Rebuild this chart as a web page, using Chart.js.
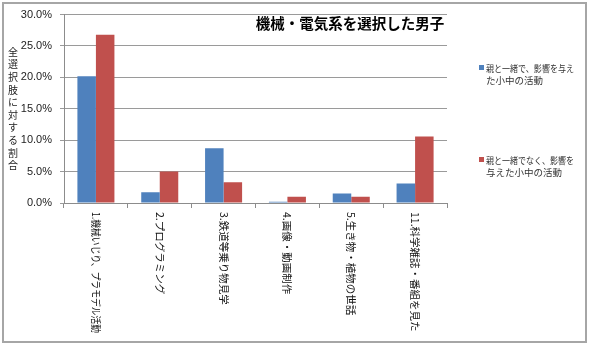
<!DOCTYPE html>
<html>
<head>
<meta charset="utf-8">
<script src="https://cdn.jsdelivr.net/npm/chart.js@4"></script>
<style>
  body { margin: 0; background: #fff; }
</style>
</head>
<body>
<canvas id="chart" width="590" height="345"></canvas>
<script>
// data (percent of all choices)
const categories = [
  "1.機械いじり、プラモデル活動",
  "2.プログラミング",
  "3.鉄道等乗り物見学",
  "4.画像・動画制作",
  "5.生き物・植物の世話",
  "11.科学雑誌・番組を見た"
];
const withParent = [20.2, 1.7, 8.7, 0.2, 1.5, 3.1];
const withoutParent = [26.8, 5.0, 3.3, 1.0, 1.0, 10.6];
const seriesNames = [
  "親と一緒で、影響を与えた小中の活動",
  "親と一緒でなく、影響を与えた小中の活動"
];
const legendLines = [
  ["親と一緒で、影響を与え", "た小中の活動"],
  ["親と一緒でなく、影響を", "与えた小中の活動"]
];
const chartTitle = "機械・電気系を選択した男子";
const yTitle = "全選択肢に対する割合";

const JP = '"Noto Sans CJK JP", sans-serif';
const colors = ["#4f81bd", "#c0504d"];

const decorations = {
  id: "decorations",
  afterDraw(chart) {
    const ctx = chart.ctx;
    const area = chart.chartArea;
    const xs = chart.scales.x;
    ctx.save();

    // outer frame
    ctx.strokeStyle = "#a6a6a6";
    ctx.lineWidth = 2;
    ctx.strokeRect(3, 3, 583, 339);

    // title inside plot
    ctx.fillStyle = "#000";
    ctx.font = "bold 14.5px " + JP;
    ctx.textAlign = "center";
    ctx.textBaseline = "middle";
    ctx.fillText(chartTitle, 350, 23);

    // stacked y title, one upright character per row
    ctx.font = "10px " + JP;
    ctx.fillStyle = "#222";
    [...yTitle].forEach((ch, i) => ctx.fillText(ch, 13, 52 + i * 12.6));

    // category labels, rotated clockwise
    ctx.font = "10.5px " + JP;
    ctx.fillStyle = "#111";
    ctx.textAlign = "left";
    categories.forEach((label, i) => {
      const x = xs.getPixelForValue(i);
      ctx.save();
      ctx.translate(x, area.bottom + 9);
      ctx.rotate(Math.PI / 2);
      ctx.fillText(label, 0, 0, 121);
      ctx.restore();
    });

    // legend
    ctx.font = "9.5px " + JP;
    const tops = [68, 160];
    legendLines.forEach((lines, i) => {
      ctx.fillStyle = colors[i];
      ctx.fillRect(479, tops[i] - 3, 5, 5);
      ctx.fillStyle = "#333";
      ctx.fillText(lines[0], 486, tops[i], 88);
      ctx.fillText(lines[1], 486, tops[i] + 12, 88);
    });
    ctx.restore();
  }
};

new Chart(document.getElementById("chart"), {
  type: "bar",
  data: {
    labels: categories,
    datasets: [
      { label: seriesNames[0], data: withParent, backgroundColor: colors[0] },
      { label: seriesNames[1], data: withoutParent, backgroundColor: colors[1] }
    ]
  },
  options: {
    responsive: false,
    animation: false,
    layout: { padding: { left: 10, top: 13, right: 143, bottom: 0 } },
    plugins: { legend: { display: false }, tooltip: { enabled: false } },
    datasets: { bar: { barPercentage: 1, categoryPercentage: 0.58 } },
    scales: {
      x: {
        afterFit(scale) { scale.height = 142; },
        ticks: { display: false },
        border: { color: "#8c8c8c" },
        grid: { offset: true, drawOnChartArea: false, drawTicks: true, tickLength: 5, color: "#8c8c8c" }
      },
      y: {
        min: 0,
        max: 30,
        afterFit(scale) { scale.width = 54; },
        border: { color: "#8c8c8c" },
        grid: { color: "#9a9a9a", tickLength: 4 },
        ticks: {
          stepSize: 5,
          padding: 8,
          color: "#222",
          font: { family: '"Liberation Sans", sans-serif', size: 11 },
          callback: (v) => v.toFixed(1) + "%"
        }
      }
    }
  },
  plugins: [decorations]
});
</script>
</body>
</html>
